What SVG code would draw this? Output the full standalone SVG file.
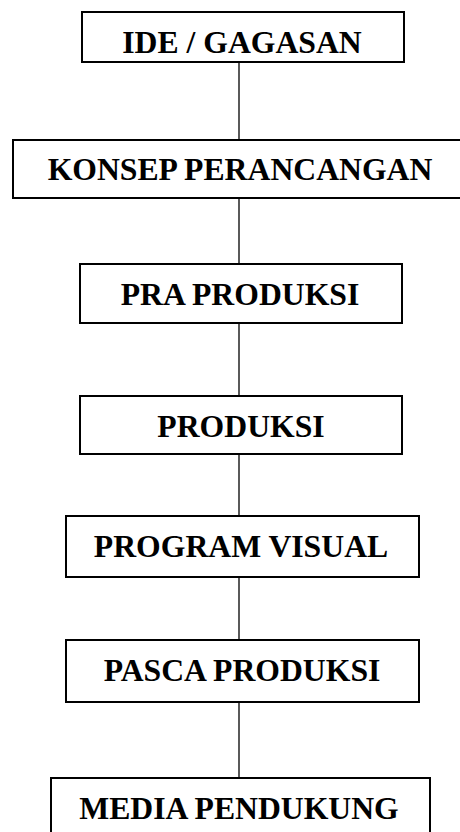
<svg xmlns="http://www.w3.org/2000/svg" width="460" height="832" viewBox="0 0 460 832">
<style>
.box{fill:#fff;stroke:#000;stroke-width:2}
.lbl{font-family:"Liberation Serif","Times New Roman",serif;font-weight:bold;font-size:31.7px;fill:#000;text-anchor:middle}
.conn line{stroke:#000;stroke-width:1.3}
</style>
<rect width="460" height="832" fill="#fff"/>
<g class="conn" id="connectors">
<line x1="239" y1="62" x2="239" y2="140"/>
<line x1="239" y1="198" x2="239" y2="264"/>
<line x1="239" y1="323" x2="239" y2="396"/>
<line x1="239" y1="454" x2="239" y2="516"/>
<line x1="239" y1="577" x2="239" y2="640"/>
<line x1="239" y1="702" x2="239" y2="778"/>
</g>
<g id="ide"><rect class="box" x="82" y="12" width="322" height="50"/><text class="lbl" x="242" y="53">IDE / GAGASAN</text></g>
<g id="konsep"><rect class="box" x="13" y="140" width="452" height="58"/><text class="lbl" x="240" y="180">KONSEP PERANCANGAN</text></g>
<g id="pra"><rect class="box" x="80" y="264" width="322" height="59"/><text class="lbl" x="240" y="305">PRA PRODUKSI</text></g>
<g id="produksi"><rect class="box" x="80" y="396" width="322" height="58"/><text class="lbl" x="241" y="437">PRODUKSI</text></g>
<g id="program"><rect class="box" x="66" y="516" width="353" height="61"/><text class="lbl" x="241" y="557">PROGRAM VISUAL</text></g>
<g id="pasca"><rect class="box" x="66" y="640" width="353" height="62"/><text class="lbl" x="242" y="681">PASCA PRODUKSI</text></g>
<g id="media"><rect class="box" x="51" y="778" width="379" height="70"/><text class="lbl" x="239" y="819">MEDIA PENDUKUNG</text></g>
</svg>
